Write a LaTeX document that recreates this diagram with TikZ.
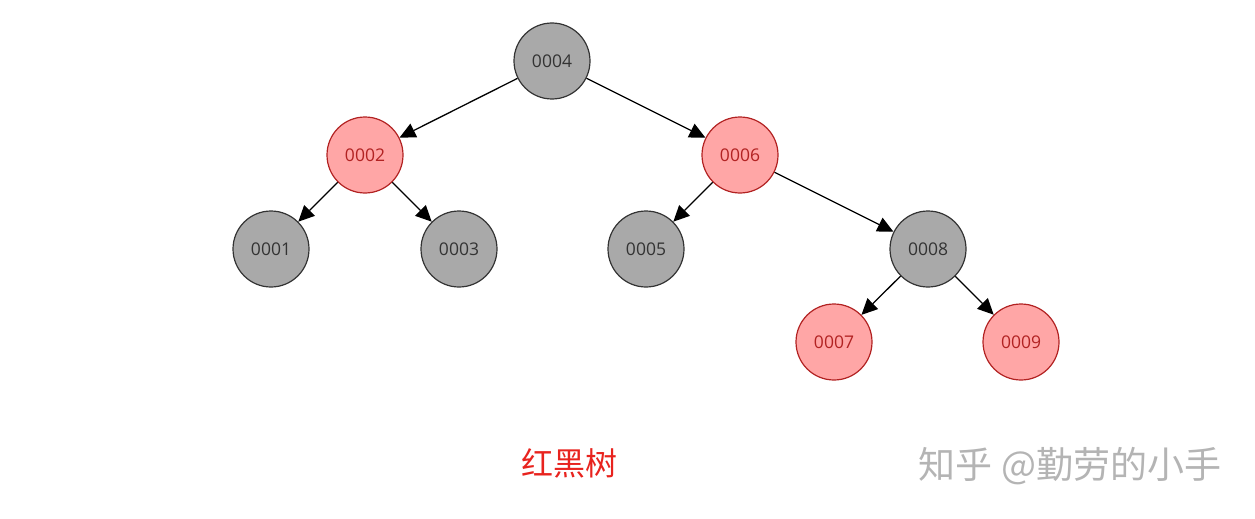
\documentclass[tikz,border=0pt]{standalone}
\usepackage{fontspec}
\setmainfont{Open Sans}
\newfontfamily\cjk{Noto Sans CJK SC}
\usetikzlibrary{arrows.meta}
\definecolor{blk}{HTML}{A9A9A9}
\definecolor{redf}{HTML}{FFA6A6}
\definecolor{redd}{HTML}{B22222}
\definecolor{capred}{HTML}{E8231E}
\definecolor{wm}{HTML}{B4B4B4}
\tikzset{
  bnode/.style={circle,draw=black!80,fill=blk,line width=1.2pt,minimum size=76pt,inner sep=0pt,font=\fontsize{17.5}{20}\selectfont,text=black!80},
  rnode/.style={circle,draw=redd,fill=redf,line width=1.2pt,minimum size=76pt,inner sep=0pt,font=\fontsize{17.5}{20}\selectfont,text=redd},
  edge/.style={line width=1.3pt,draw=black,-{Triangle[length=16pt,width=15pt]}}
}
\begin{document}
\begin{tikzpicture}[x=1pt,y=-1pt]
\useasboundingbox (0,0) rectangle (1255,519);
\node[bnode] (n4) at (552,61) {0004};
\node[rnode] (n2) at (365,155) {0002};
\node[rnode] (n6) at (740,155) {0006};
\node[bnode] (n1) at (271,249) {0001};
\node[bnode] (n3) at (459,249) {0003};
\node[bnode] (n5) at (646,249) {0005};
\node[bnode] (n8) at (928,249) {0008};
\node[rnode] (n7) at (834,342) {0007};
\node[rnode] (n9) at (1021,342) {0009};
\draw[edge] (n4) -- (n2);
\draw[edge] (n4) -- (n6);
\draw[edge] (n2) -- (n1);
\draw[edge] (n2) -- (n3);
\draw[edge] (n6) -- (n5);
\draw[edge] (n6) -- (n8);
\draw[edge] (n8) -- (n7);
\draw[edge] (n8) -- (n9);
\node[font=\cjk\fontsize{32}{36}\selectfont,text=capred] (cap) at (569,463) {红黑树};
\node[font=\cjk\fontsize{37}{40}\selectfont,text=wm] (wmk) at (1070,466) {知乎 @勤劳的小手};
\end{tikzpicture}
\end{document}
